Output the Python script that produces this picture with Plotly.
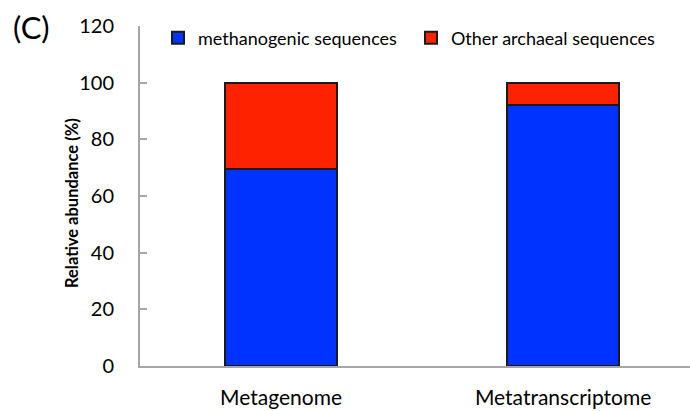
import plotly.graph_objects as go

samples = ["Metagenome", "Metatranscriptome"]
methanogenic = [69.5, 92.0]
other_archaeal = [30.5, 8.0]
series_names = ["methanogenic sequences", "Other archaeal sequences"]
y_ticks = [0, 20, 40, 60, 80, 100, 120]

FONT = "Lato, Open Sans, sans-serif"
PLOT_L, PLOT_W = 140, 550
PLOT_T, PLOT_H = 26, 340


def px_x(px):
    return (px - PLOT_L) / PLOT_W


def px_y(py):
    return (PLOT_T + PLOT_H - py) / PLOT_H


fig = go.Figure()
fig.add_trace(go.Bar(
    x=[0, 1], y=methanogenic, name=series_names[0], legend="legend",
    marker=dict(color="#0033FF", line=dict(color="#1a1a1a", width=2)),
    width=0.4,
))
fig.add_trace(go.Bar(
    x=[0, 1], y=other_archaeal, name=series_names[1], legend="legend2",
    marker=dict(color="#FF2200", line=dict(color="#1a1a1a", width=2)),
    width=0.4,
))

legend_style = dict(
    orientation="h", yanchor="middle", y=px_y(38), xanchor="left",
    font=dict(size=18, family=FONT, color="black"), bgcolor="rgba(0,0,0,0)",
    itemwidth=30,
)

fig.update_layout(
    barmode="stack",
    width=690, height=411,
    margin=dict(l=PLOT_L, r=0, t=PLOT_T, b=411 - PLOT_T - PLOT_H),
    paper_bgcolor="white", plot_bgcolor="white",
    font=dict(family=FONT, color="black"),
    showlegend=True,
    legend=dict(legend_style, x=px_x(158)),
    legend2=dict(legend_style, x=px_x(411)),
    xaxis=dict(
        range=[-0.5, 1.45], tickmode="array", tickvals=[0, 1], ticktext=samples,
        showline=True, linecolor="#a6a6a6", linewidth=2, ticks="",
        tickfont=dict(size=21, family=FONT), showgrid=False, zeroline=False,
        ticklabelstandoff=12, fixedrange=True,
    ),
    yaxis=dict(
        range=[0, 120], tickmode="array", tickvals=y_ticks,
        showline=True, linecolor="#a6a6a6", linewidth=2,
        ticks="inside", ticklen=7, tickcolor="#a6a6a6", tickwidth=1.5,
        tickfont=dict(size=20, family=FONT), showgrid=False, zeroline=False,
        ticklabelstandoff=20,
    ),
)
# y-axis title placed as rotated text beside the tick labels
fig.add_annotation(
    text="<b>Relative abundance (%)</b>", xref="paper", yref="paper",
    x=px_x(72), y=px_y(203), xanchor="center", yanchor="middle",
    textangle=-90, showarrow=False, font=dict(size=16.5, family=FONT),
)
fig.add_annotation(
    text="(C)", xref="paper", yref="paper", x=px_x(11), y=px_y(27),
    xanchor="left", yanchor="middle", showarrow=False, font=dict(size=31, family=FONT),
)

fig.write_html("out.html")
